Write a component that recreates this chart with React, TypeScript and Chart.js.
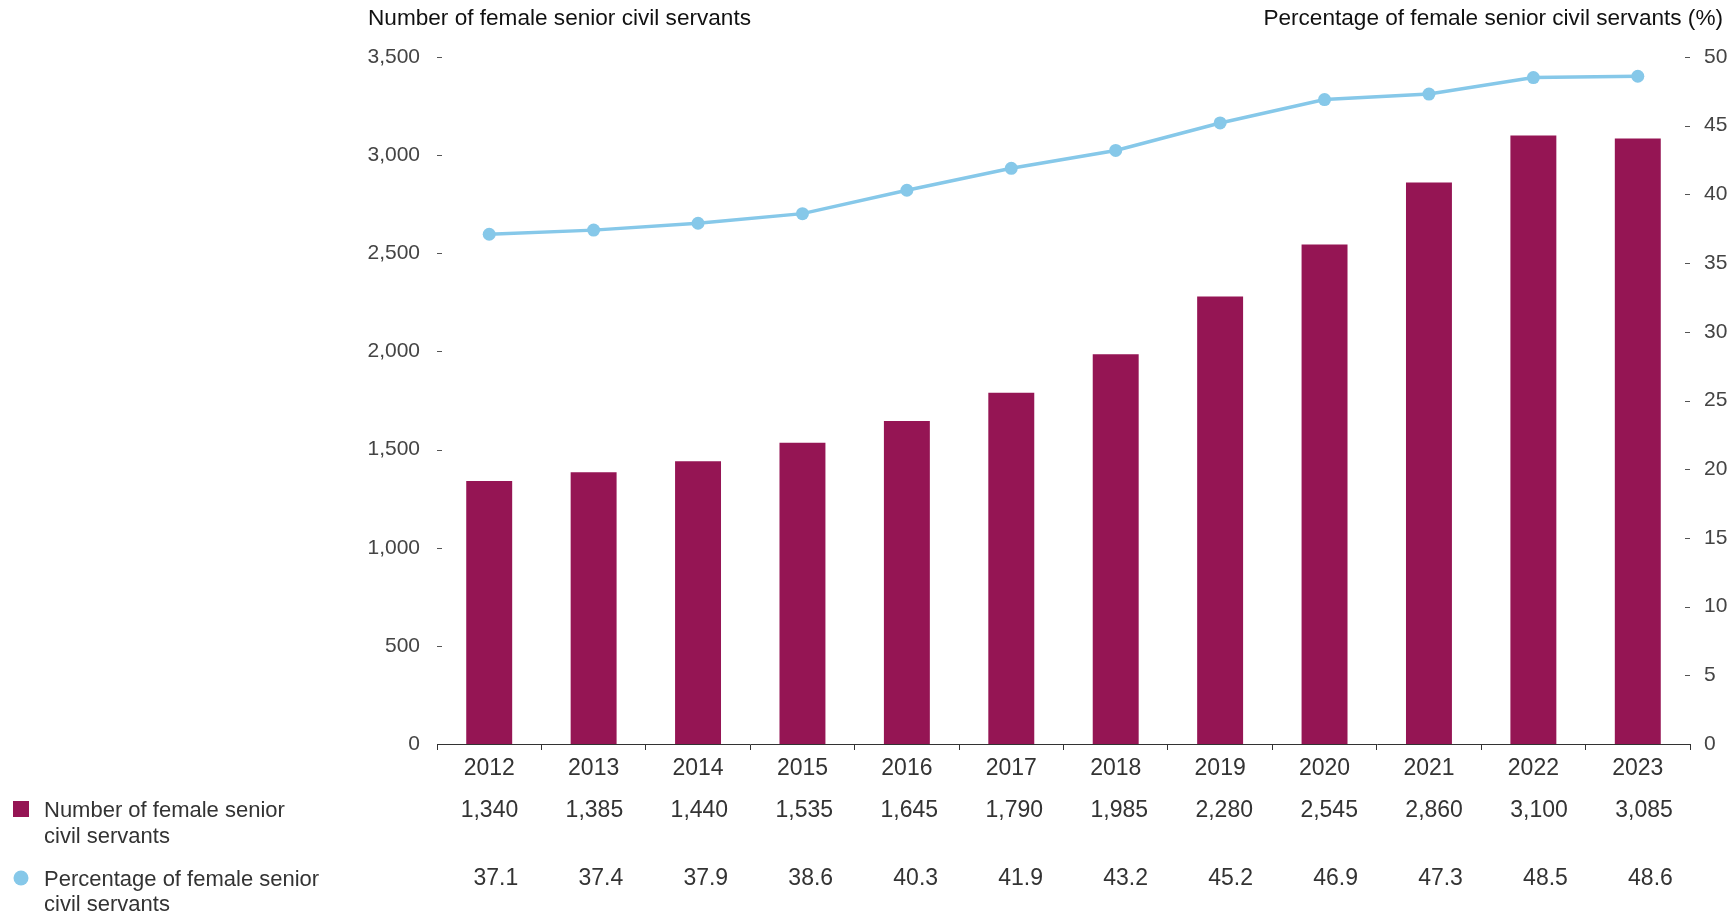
import React, { useEffect, useRef } from 'react';
import { Chart, registerables } from 'chart.js';

Chart.register(...registerables);

const FONT = '"Liberation Sans", Arial, Helvetica, sans-serif';

const years = ['2012', '2013', '2014', '2015', '2016', '2017', '2018', '2019', '2020', '2021', '2022', '2023'];
const numberFemale = [1340, 1385, 1440, 1535, 1645, 1790, 1985, 2280, 2545, 2860, 3100, 3085];
const percentFemale = [37.1, 37.4, 37.9, 38.6, 40.3, 41.9, 43.2, 45.2, 46.9, 47.3, 48.5, 48.6];

const leftTitle = 'Number of female senior civil servants';
const rightTitle = 'Percentage of female senior civil servants (%)';
const legendBarLines = ['Number of female senior', 'civil servants'];
const legendLineLines = ['Percentage of female senior', 'civil servants'];

const BAR_COLOR = '#951554';
const LINE_COLOR = '#86C8E9';

const overlayPlugin = {
  id: 'overlay',
  afterDraw(chart: any) {
    const { ctx, chartArea, scales } = chart;
    const x = scales.x;
    const y = scales.y;
    const y1 = scales.y1;
    ctx.save();

    // Axis titles
    ctx.font = `22.6px ${FONT}`;
    ctx.fillStyle = '#111';
    ctx.textBaseline = 'alphabetic';
    ctx.textAlign = 'left';
    ctx.fillText(leftTitle, 368, 25);
    ctx.textAlign = 'right';
    ctx.fillText(rightTitle, 1723, 25);

    // Inner tick dashes
    ctx.strokeStyle = '#555';
    ctx.lineWidth = 1;
    y.ticks.forEach((t: any) => {
      if (t.value === 0) return;
      const py = Math.round(y.getPixelForValue(t.value)) + 0.5;
      ctx.beginPath();
      ctx.moveTo(chartArea.left, py);
      ctx.lineTo(chartArea.left + 5, py);
      ctx.stroke();
    });
    y1.ticks.forEach((t: any) => {
      if (t.value === 0) return;
      const py = Math.round(y1.getPixelForValue(t.value)) + 0.5;
      ctx.beginPath();
      ctx.moveTo(chartArea.right - 5, py);
      ctx.lineTo(chartArea.right, py);
      ctx.stroke();
    });

    // Data table rows
    ctx.font = `23px ${FONT}`;
    ctx.fillStyle = '#333';
    ctx.textAlign = 'right';
    ctx.textBaseline = 'alphabetic';
    years.forEach((_, i) => {
      const rx = x.getPixelForValue(i) + 29 + i * 0.55;
      ctx.fillText(numberFemale[i].toLocaleString('en-US'), rx, 817);
      ctx.fillText(percentFemale[i].toFixed(1), rx, 885);
    });

    // Legend
    ctx.font = `22px ${FONT}`;
    ctx.fillStyle = BAR_COLOR;
    ctx.fillRect(13, 801, 16, 16);
    ctx.fillStyle = LINE_COLOR;
    ctx.beginPath();
    ctx.arc(21, 878, 7.5, 0, Math.PI * 2);
    ctx.fill();
    ctx.fillStyle = '#333';
    ctx.textAlign = 'left';
    ctx.fillText(legendBarLines[0], 44, 817);
    ctx.fillText(legendBarLines[1], 44, 843);
    ctx.fillText(legendLineLines[0], 44, 886);
    ctx.fillText(legendLineLines[1], 44, 911);

    ctx.restore();
  },
};

export default function App() {
  const canvasRef = useRef<HTMLCanvasElement | null>(null);

  useEffect(() => {
    document.body.style.margin = '0';
    const canvas = canvasRef.current;
    if (!canvas) return;
    const chart = new Chart(canvas, {
      type: 'bar',
      data: {
        labels: years,
        datasets: [
          {
            type: 'line',
            label: 'Percentage of female senior civil servants',
            data: percentFemale,
            yAxisID: 'y1',
            borderColor: LINE_COLOR,
            backgroundColor: LINE_COLOR,
            borderWidth: 3.5,
            pointRadius: 6.5,
            pointBackgroundColor: LINE_COLOR,
            pointBorderWidth: 0,
            tension: 0,
            order: 0,
          } as any,
          {
            type: 'bar',
            label: 'Number of female senior civil servants',
            data: numberFemale,
            yAxisID: 'y',
            backgroundColor: BAR_COLOR,
            barPercentage: 0.44,
            categoryPercentage: 1.0,
            order: 1,
          },
        ],
      },
      options: {
        animation: false,
        responsive: false,
        devicePixelRatio: 1,
        layout: { padding: { top: 57, left: 0, right: 0, bottom: 0 } },
        plugins: {
          legend: { display: false },
          tooltip: { enabled: false },
        },
        scales: {
          x: {
            grid: {
              offset: true,
              drawOnChartArea: false,
              drawTicks: true,
              tickLength: 6,
              color: '#333',
            },
            border: { color: '#333', width: 1 },
            ticks: {
              font: { size: 23, family: FONT },
              color: '#333',
              padding: 5,
              maxRotation: 0,
            },
            afterFit: (s: any) => {
              s.height = 171;
            },
          },
          y: {
            position: 'left',
            min: 0,
            max: 3500,
            grid: { display: false, drawTicks: false },
            border: { display: false },
            ticks: {
              stepSize: 500,
              padding: 17,
              font: { size: 21, family: FONT },
              color: '#444',
              callback: (v: any) => Number(v).toLocaleString('en-US'),
            },
            afterFit: (s: any) => {
              s.width = 437;
            },
          },
          y1: {
            position: 'right',
            min: 0,
            max: 50,
            grid: { display: false, drawTicks: false },
            border: { display: false },
            ticks: {
              stepSize: 5,
              padding: 14,
              font: { size: 21, family: FONT },
              color: '#444',
            },
            afterFit: (s: any) => {
              s.width = 42;
            },
          },
        },
      },
      plugins: [overlayPlugin],
    });
    return () => chart.destroy();
  }, []);

  return (
    <div style={{ width: 1732, height: 915, position: 'relative' }}>
      <canvas ref={canvasRef} width={1732} height={915} style={{ display: 'block' }} />
    </div>
  );
}
